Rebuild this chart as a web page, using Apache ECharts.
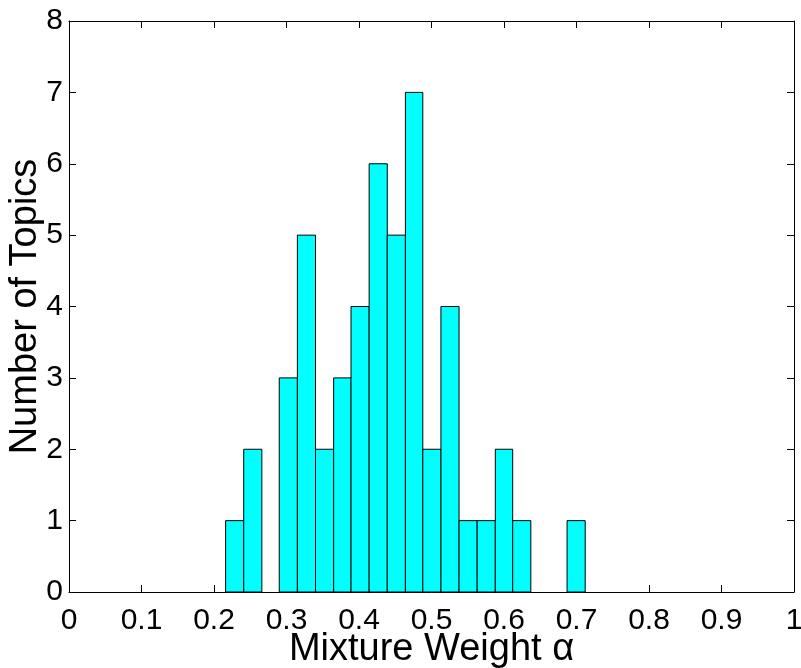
<!DOCTYPE html>
<html>
<head>
<meta charset="utf-8">
<script src="https://cdn.jsdelivr.net/npm/echarts@6/dist/echarts.min.js"></script>
<style>html,body{margin:0;padding:0;background:#fff}#c{width:801px;height:668px}</style>
</head>
<body>
<div id="c"></div>
<script>
var binEdges = [0.216,0.241,0.266,0.290,0.315,0.340,0.365,0.389,0.414,0.439,0.464,0.488,0.513,0.538,0.563,0.588,0.612,0.637,0.662,0.687,0.712];
var counts = [1,2,0,3,5,2,3,4,6,5,7,2,4,1,1,2,1,0,0,1];
var xTitle = 'Mixture Weight \u03b1';
var yTitle = 'Number of Topics';

var data = counts.map(function (c, i) { return [binEdges[i], binEdges[i + 1], c]; });
var font = 'Liberation Sans, Arial, Helvetica, sans-serif';
var chart = echarts.init(document.getElementById('c'), null, {renderer: 'canvas'});
var lineStyle = {color: '#000', width: 1};
chart.setOption({
  animation: false,
  backgroundColor: '#fff',
  grid: {left: 69, right: 7, top: 21, bottom: 76, containLabel: false, outerBoundsMode: 'none'},
  xAxis: [{
    type: 'value', min: 0, max: 1, interval: 0.1, position: 'bottom',
    name: xTitle, nameLocation: 'middle', nameGap: 39, nameMoveOverlap: false,
    nameTextStyle: {fontSize: 38, color: '#000', fontFamily: font},
    axisLine: {show: true, onZero: false, lineStyle: lineStyle},
    axisTick: {show: true, inside: true, length: 7, lineStyle: lineStyle},
    axisLabel: {fontSize: 30, color: '#000', fontFamily: font, margin: 14},
    splitLine: {show: false}
  }, {
    type: 'value', min: 0, max: 1, interval: 0.1, position: 'top',
    axisLine: {show: true, onZero: false, lineStyle: lineStyle},
    axisTick: {show: true, inside: true, length: 7, lineStyle: lineStyle},
    axisLabel: {show: false}, splitLine: {show: false}
  }],
  yAxis: [{
    type: 'value', min: 0, max: 8, interval: 1, position: 'left',
    name: yTitle, nameLocation: 'middle', nameGap: 24, nameRotate: 90, nameMoveOverlap: false,
    nameTextStyle: {fontSize: 38, color: '#000', fontFamily: font},
    axisLine: {show: true, onZero: false, lineStyle: lineStyle},
    axisTick: {show: true, inside: true, length: 7, lineStyle: lineStyle},
    axisLabel: {fontSize: 30, color: '#000', fontFamily: font, margin: 6},
    splitLine: {show: false}
  }, {
    type: 'value', min: 0, max: 8, interval: 1, position: 'right',
    axisLine: {show: true, onZero: false, lineStyle: lineStyle},
    axisTick: {show: true, inside: true, length: 7, lineStyle: lineStyle},
    axisLabel: {show: false}, splitLine: {show: false}
  }],
  series: [{
    type: 'custom',
    xAxisIndex: 0, yAxisIndex: 0,
    data: data,
    encode: {x: [0, 1], y: 2},
    renderItem: function (params, api) {
      var h = api.value(2);
      if (!h) return null;
      var p0 = api.coord([api.value(0), h]);
      var p1 = api.coord([api.value(1), 0]);
      return {
        type: 'rect',
        shape: {x: p0[0], y: p0[1], width: p1[0] - p0[0], height: p1[1] - p0[1]},
        style: {fill: '#00ffff', stroke: '#000', lineWidth: 1}
      };
    }
  }]
});
</script>
</body>
</html>
